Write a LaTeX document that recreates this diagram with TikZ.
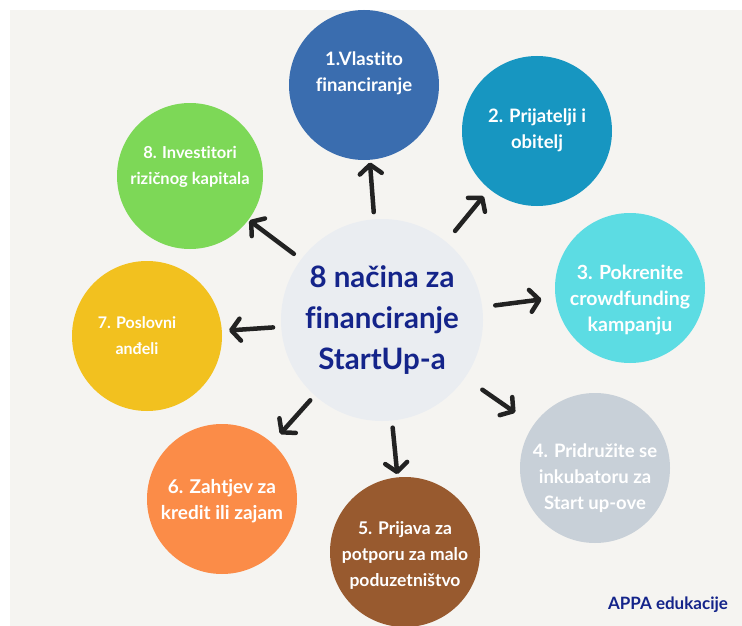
\documentclass[tikz,border=0pt]{standalone}
\usepackage{fontspec}
\setmainfont{Lato}[Ligatures={NoCommon}]
\usetikzlibrary{arrows.meta}
\definecolor{bgc}{HTML}{F5F4F1}
\definecolor{cA}{HTML}{3A6DAF}
\definecolor{cB}{HTML}{1796C1}
\definecolor{cC}{HTML}{5CDCE3}
\definecolor{cD}{HTML}{C8D0D8}
\definecolor{cE}{HTML}{985A2F}
\definecolor{cF}{HTML}{FB8C48}
\definecolor{cG}{HTML}{F2C11F}
\definecolor{cH}{HTML}{7DD857}
\definecolor{cCenter}{HTML}{EAEDF1}
\definecolor{navy}{HTML}{14248A}
\definecolor{arrc}{HTML}{222222}
\tikzset{
  bubble/.style={circle, minimum size=150pt, inner sep=0pt, fill=#1},
  lab/.style={text=white, font=\bfseries\fontsize{#1}{26}\selectfont, align=center},
  arr/.style={draw=arrc, line width=4.5pt, line cap=round,
    -{Straight Barb[length=9pt,width=22pt,round]}},
}
\begin{document}
\begin{tikzpicture}[x=1pt,y=-1pt]
\fill[white] (0,0) rectangle (742,626);
\fill[bgc] (10,10) rectangle (742,626);
\useasboundingbox (0,0) rectangle (742,626);
\begin{scope}
\clip (10,10) rectangle (742,626);
\node[bubble=cA, label={[lab=18.5,yshift=12pt]center:{1.Vlastito\\financiranje}}] (n1) at (364,85) {};
\node[bubble=cB, label={[lab=18.5,yshift=1pt]center:{2. Prijatelji i\\obitelj}}] (n2) at (537,131) {};
\node[bubble=cC, label={[lab=19.5,yshift=-12pt]center:{3. Pokrenite\\crowdfunding\\kampanju}}] (n3) at (630,288) {};
\node[bubble=cD, label={[lab=18.5,yshift=-10pt]center:{4. Pridružite se\\inkubatoru za\\Start up-ove}}] (n4) at (595,468) {};
\node[bubble=cE, label={[lab=17.5,yshift=-3pt]center:{5. Prijava za\\potporu za malo\\poduzetništvo}}] (n5) at (405,552) {};
\node[bubble=cF, label={[lab=19,yshift=-2pt]center:{6. Zahtjev za\\kredit ili zajam}}] (n6) at (222,499) {};
\node[bubble=cG, label={[lab=16,xshift=-10pt]center:{7. Poslovni\\anđeli}}] (n7) at (147,336) {};
\node[bubble=cH, minimum size=146pt, label={[lab=16.5,yshift=9pt]center:{8. Investitori\\rizičnog kapitala}}] (n8) at (190,176) {};
\end{scope}
\node[circle, fill=cCenter, minimum size=202pt, inner sep=0pt, text=navy,
  font=\bfseries\fontsize{29.5}{41}\selectfont, align=center] (c) at (382,320)
  {8 načina za\\financiranje\\StartUp-a};
\draw[arr, shorten <=7pt, shorten >=2.5pt] (c) -- (n1);
\draw[arr, shorten <=14pt, shorten >=9pt] (c) -- (n2);
\draw[arr, shorten <=13pt, shorten >=14pt] (c) -- (n3);
\draw[arr, shorten <=21pt, shorten >=22pt] (c) -- (n4);
\draw[arr, shorten <=7pt, shorten >=3pt] (c) -- (n5);
\draw[arr, shorten <=6.5pt, shorten >=12pt] (c) -- (n6);
\draw[arr, shorten <=8pt, shorten >=7pt] (c) -- (n7);
\draw[arr, shorten <=9pt, shorten >=1pt] (c) -- (n8);
\node[text=navy, font=\bfseries\fontsize{17}{20}\selectfont] (appa) at (668,605) {APPA edukacije};
\end{tikzpicture}
\end{document}
